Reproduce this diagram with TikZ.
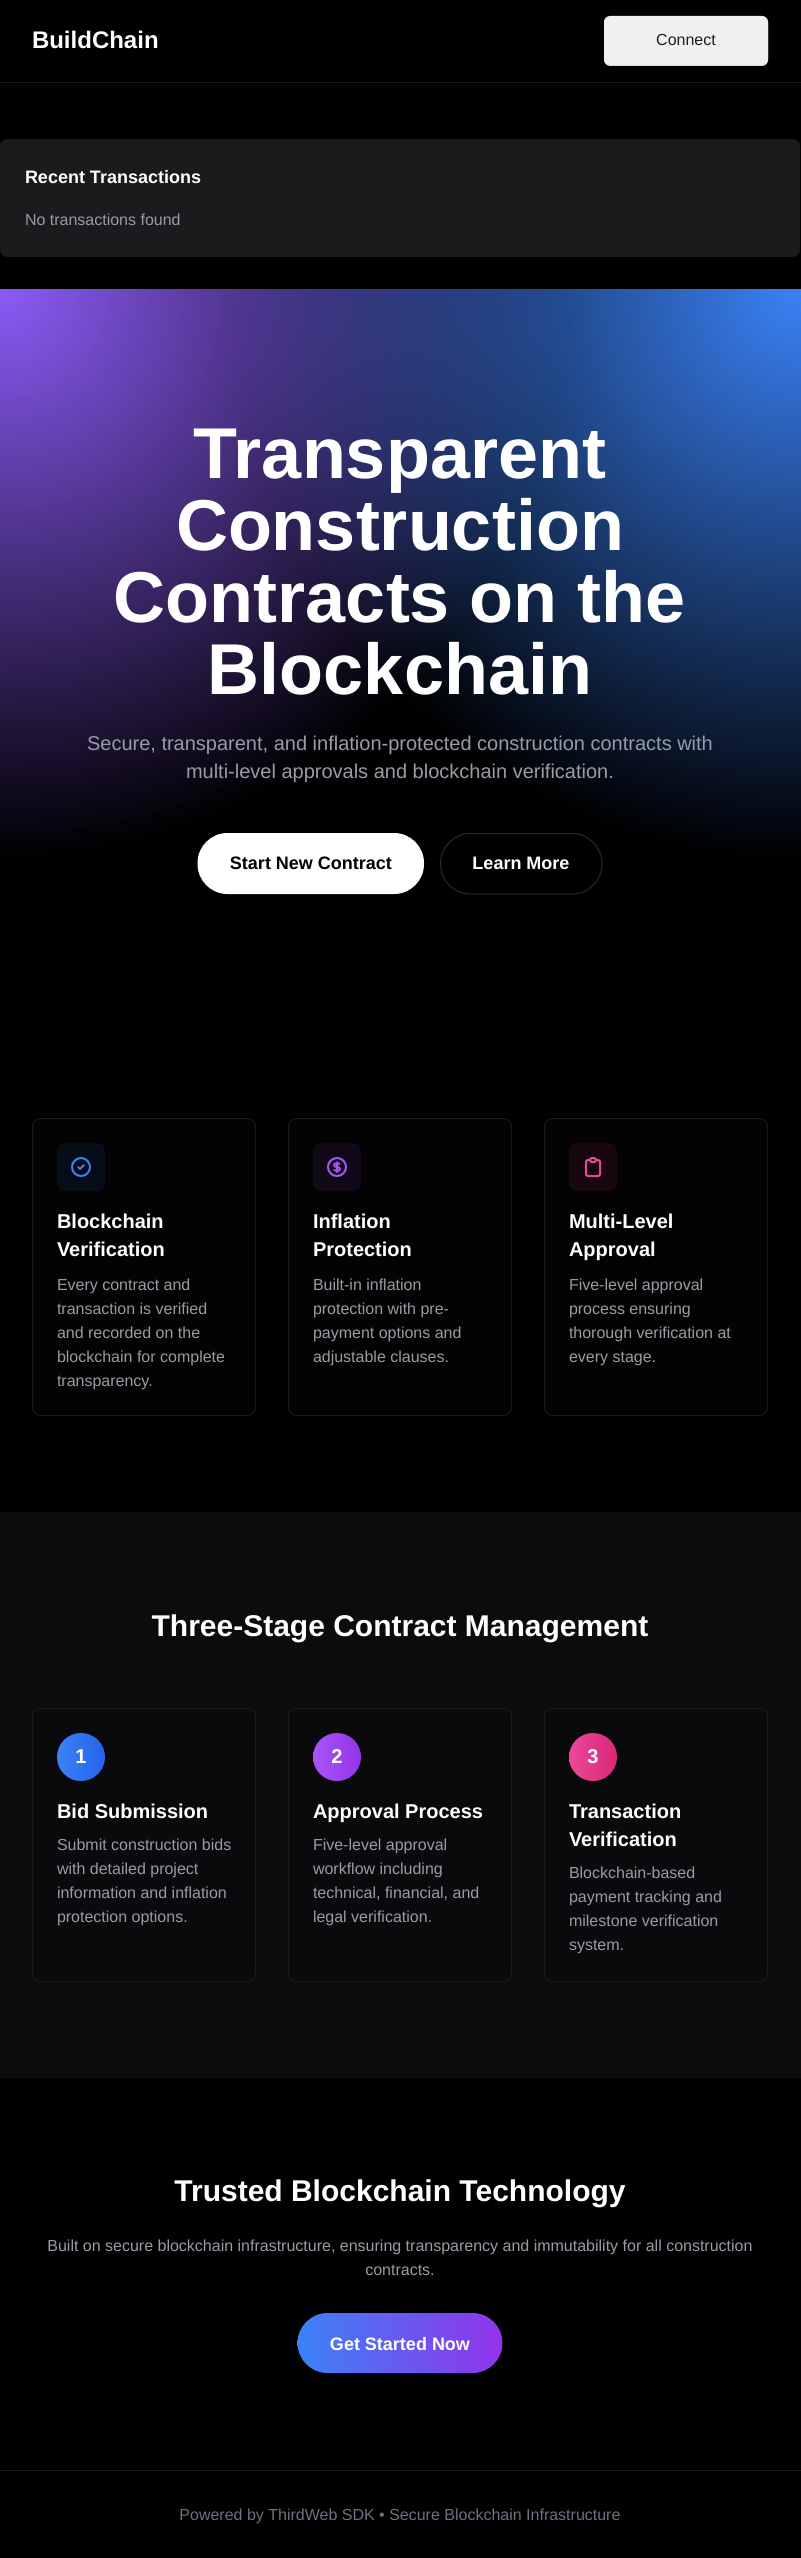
\documentclass[tikz,border=0pt]{standalone}
\usepackage{fontspec}
\setmainfont[Ligatures=NoCommon]{Liberation Sans}
\usetikzlibrary{fadings}

\definecolor{pagebg}{HTML}{000000}
\definecolor{linegrey}{HTML}{1A1A1A}
\definecolor{panelgrey}{HTML}{1B1B1D}
\definecolor{stagebg}{HTML}{0C0C0E}
\definecolor{stagecard}{HTML}{0A0A0C}
\definecolor{featcard}{HTML}{030303}
\definecolor{mutedgrey}{HTML}{989CA6}
\definecolor{footgrey}{HTML}{6B7280}
\definecolor{heroviolet}{HTML}{8B5CF6}
\definecolor{heroblue}{HTML}{3B82F6}
\definecolor{iconblue}{HTML}{3B82F6}
\definecolor{iconviolet}{HTML}{A855F7}
\definecolor{iconpink}{HTML}{EC4899}
\definecolor{deepblue}{HTML}{2563EB}
\definecolor{deepviolet}{HTML}{9333EA}
\definecolor{deeppink}{HTML}{DB2777}
\definecolor{connectface}{HTML}{F0F0F1}
\definecolor{connectedge}{HTML}{D8D8DA}
\definecolor{learnedge}{HTML}{2A2A2A}

\tikzfading[name=herofade, inner color=transparent!0, outer color=transparent!100]

\tikzset{
    say/.style={inner sep=0pt, outer sep=0pt, text=#1},
    say/.default=white,
    big/.style={font=\fontsize{54}{54}\selectfont\bfseries},
    headline/.style={font=\fontsize{22.5}{22.5}\selectfont\bfseries},
    cardhead/.style={font=\fontsize{15}{21}\selectfont\bfseries},
    body/.style={font=\fontsize{12}{18}\selectfont},
    card/.style={draw=#1, rounded corners=6pt, line width=0.75pt},
    iconbox/.style={fill=#1, rounded corners=6pt},
    iconline/.style={draw=#1, line width=1.5pt, line cap=round, line join=round},
    pill/.style={rounded corners=22.5pt}
}

\begin{document}
\begin{tikzpicture}[x=0.75pt, y=-0.75pt]
    \useasboundingbox (0,0) rectangle (800,2558);
    \fill[pagebg] (-5,-5) rectangle (805,2563);

    % top bar
    \node[say, anchor=base west, font=\fontsize{18}{18}\selectfont\bfseries] (brand) at (32,49) {BuildChain};
    \fill[connectedge, rounded corners=4.5pt] (604,16.5) rectangle (768,66);
    \fill[connectface, rounded corners=4.5pt] (604,16) rectangle (768,65);
    \node[say={black!88}, anchor=base, body] (connect) at (686,46) {Connect};
    \draw[linegrey, line width=0.75pt] (-5,82.5) -- (805,82.5);

    % transactions panel
    \fill[panelgrey, rounded corners=6pt] (0,139) rectangle (800,257);
    \node[say, anchor=base west, font=\fontsize{13.5}{13.5}\selectfont\bfseries] (recent) at (25,184) {Recent Transactions};
    \node[say=mutedgrey, anchor=base west, body] (notx) at (25,226) {No transactions found};

    % hero
    \begin{scope}
        \clip (-5,289) rectangle (805,1000);
        \fill[heroviolet, path fading=herofade] (0,289) circle (570);
        \fill[heroblue, path fading=herofade] (800,289) circle (570);
    \end{scope}
    \node[say, anchor=base, big] (lineA) at (400,478) {Transparent};
    \node[say, anchor=base, big] (lineB) at (400,550) {Construction};
    \node[say, anchor=base, big] (lineC) at (400,622) {Contracts on the};
    \node[say, anchor=base, big] (lineD) at (400,694) {Blockchain};
    \node[say=mutedgrey, anchor=base, font=\fontsize{15}{15}\selectfont] (subA) at (400,750) {Secure, transparent, and inflation-protected construction contracts with};
    \node[say=mutedgrey, anchor=base, font=\fontsize{15}{15}\selectfont] (subB) at (400,778) {multi-level approvals and blockchain verification.};
    \fill[white, pill] (197.5,833) rectangle (424,894);
    \node[say=black, anchor=base, font=\fontsize{13.5}{13.5}\selectfont\bfseries] (start) at (311,869) {Start New Contract};
    \draw[learnedge, line width=0.75pt, pill] (440.5,833.5) rectangle (602,894);
    \node[say, anchor=base, font=\fontsize{13.5}{13.5}\selectfont\bfseries] (learn) at (521,869) {Learn More};

    % feature cards
    \filldraw[fill=featcard, card=linegrey] (32.5,1118.5) rectangle (255.5,1415.5);
    \filldraw[fill=featcard, card=linegrey] (288.5,1118.5) rectangle (511.5,1415.5);
    \filldraw[fill=featcard, card=linegrey] (544.5,1118.5) rectangle (767.5,1415.5);

    \fill[iconbox={iconblue!10!black}] (57,1143) rectangle (105,1191);
    \fill[iconbox={iconviolet!10!black}] (313,1143) rectangle (361,1191);
    \fill[iconbox={iconpink!10!black}] (569,1143) rectangle (617,1191);

    \begin{scope}[shift={(69,1155)}]
        \draw[iconline=iconblue] (12,12) circle (9);
        \draw[iconline=iconblue] (9,12) -- (11,14) -- (15,10);
    \end{scope}
    \begin{scope}[shift={(325,1155)}]
        \draw[iconline=iconviolet] (12,12) circle (9);
        \draw[iconline=iconviolet] (12,8) .. controls (10.343,8) and (9,8.895) .. (9,10) .. controls (9,11.105) and (10.343,12) .. (12,12) .. controls (13.657,12) and (15,12.895) .. (15,14) .. controls (15,15.105) and (13.657,16) .. (12,16);
        \draw[iconline=iconviolet] (12,8) .. controls (13.11,8) and (14.08,8.402) .. (14.6,9);
        \draw[iconline=iconviolet] (12,16) .. controls (10.89,16) and (9.92,15.598) .. (9.4,15);
        \draw[iconline=iconviolet] (12,7) -- (12,17);
    \end{scope}
    \begin{scope}[shift={(581,1155)}]
        \draw[iconline=iconpink, rounded corners=1.5pt] (9,5) -- (5,5) -- (5,21) -- (19,21) -- (19,5) -- (15,5);
        \draw[iconline=iconpink, rounded corners=1.5pt] (9,3) rectangle (15,7);
    \end{scope}

    \node[say, anchor=base west, cardhead, align=left] (featA) at (57,1256) {Blockchain\\Verification};
    \node[say, anchor=base west, cardhead, align=left] (featB) at (313,1256) {Inflation\\Protection};
    \node[say, anchor=base west, cardhead, align=left] (featC) at (569,1256) {Multi-Level\\Approval};
    \node[say=mutedgrey, anchor=base west, body, align=left] (featAtext) at (57,1386) {Every contract and\\transaction is verified\\and recorded on the\\blockchain for complete\\transparency.};
    \node[say=mutedgrey, anchor=base west, body, align=left] (featBtext) at (313,1362) {Built-in inflation\\protection with pre-\\payment options and\\adjustable clauses.};
    \node[say=mutedgrey, anchor=base west, body, align=left] (featCtext) at (569,1362) {Five-level approval\\process ensuring\\thorough verification at\\every stage.};

    % three stages
    \fill[stagebg] (-5,1512) rectangle (805,2078);
    \node[say, anchor=base, headline] (stagetitle) at (400,1636) {Three-Stage Contract Management};

    \filldraw[fill=stagecard, card=linegrey] (32.5,1708.5) rectangle (255.5,1981.5);
    \filldraw[fill=stagecard, card=linegrey] (288.5,1708.5) rectangle (511.5,1981.5);
    \filldraw[fill=stagecard, card=linegrey] (544.5,1708.5) rectangle (767.5,1981.5);

    \shade[left color=iconblue, right color=deepblue] (81,1757) circle (24);
    \shade[left color=iconviolet, right color=deepviolet] (337,1757) circle (24);
    \shade[left color=iconpink, right color=deeppink] (593,1757) circle (24);
    \node[say, anchor=base, font=\fontsize{15}{15}\selectfont\bfseries] (numA) at (81,1763) {1};
    \node[say, anchor=base, font=\fontsize{15}{15}\selectfont\bfseries] (numB) at (337,1763) {2};
    \node[say, anchor=base, font=\fontsize{15}{15}\selectfont\bfseries] (numC) at (593,1763) {3};

    \node[say, anchor=base west, cardhead] (stageA) at (57,1818) {Bid Submission};
    \node[say, anchor=base west, cardhead] (stageB) at (313,1818) {Approval Process};
    \node[say, anchor=base west, cardhead, align=left] (stageC) at (569,1846) {Transaction\\Verification};
    \node[say=mutedgrey, anchor=base west, body, align=left] (stageAtext) at (57,1922) {Submit construction bids\\with detailed project\\information and inflation\\protection options.};
    \node[say=mutedgrey, anchor=base west, body, align=left] (stageBtext) at (313,1922) {Five-level approval\\workflow including\\technical, financial, and\\legal verification.};
    \node[say=mutedgrey, anchor=base west, body, align=left] (stageCtext) at (569,1950) {Blockchain-based\\payment tracking and\\milestone verification\\system.};

    % closing block
    \node[say, anchor=base, headline] (trust) at (400,2201) {Trusted Blockchain Technology};
    \node[say=mutedgrey, anchor=base, body] (trustA) at (400,2251) {Built on secure blockchain infrastructure, ensuring transparency and immutability for all construction};
    \node[say=mutedgrey, anchor=base, body] (trustB) at (400,2275) {contracts.};
    \shade[left color=iconblue, right color=deepviolet, pill] (297.5,2313) rectangle (502.5,2373);
    \node[say, anchor=base, font=\fontsize{13.5}{13.5}\selectfont\bfseries] (getstarted) at (400,2350) {Get Started Now};

    % footer
    \draw[linegrey, line width=0.75pt] (-5,2470) -- (805,2470);
    \node[say=footgrey, anchor=base, body] (foot) at (400,2520) {Powered by ThirdWeb SDK • Secure Blockchain Infrastructure};
\end{tikzpicture}
\end{document}
